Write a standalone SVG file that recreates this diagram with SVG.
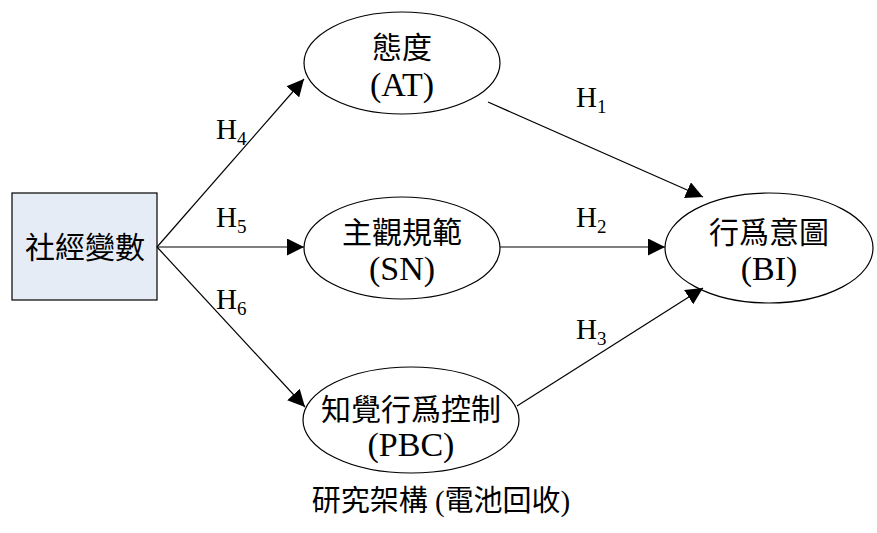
<svg xmlns="http://www.w3.org/2000/svg" width="877" height="533" viewBox="0 0 877 533">
<defs>
<style>
.n{fill:#fff;stroke:#000;stroke-width:1.2}
.t{font-family:"Liberation Serif","Noto Sans CJK TC",serif;text-anchor:middle;fill:#000}
.cj{font-size:30px}
.la{font-size:34px}
.cap{font-size:29px}
.h{font-family:"Liberation Serif",serif;font-size:29px;fill:#000}
.s{font-size:19px}
.c line{stroke:#000;stroke-width:1.2;marker-end:url(#a)}
</style>
<marker id="a" viewBox="0 0 10 10" refX="10" refY="5" markerWidth="17" markerHeight="17" markerUnits="userSpaceOnUse" orient="auto"><path d="M0,0L10,5L0,10z" fill="#000"/></marker>
</defs>
<rect width="877" height="533" fill="#fff"/>
<g id="socio"><rect x="12" y="193" width="145" height="107" fill="#e6ecf6" stroke="#000" stroke-width="1.2"/><text class="t cj" x="85" y="258">社經變數</text></g>
<g id="AT"><ellipse class="n" cx="402" cy="63" rx="98" ry="51"/><text class="t cj" x="402" y="58">態度</text><text class="t la" x="402" y="96">(AT)</text></g>
<g id="SN"><ellipse class="n" cx="402" cy="248" rx="98" ry="51"/><text class="t cj" x="402" y="243">主觀規範</text><text class="t la" x="402" y="280">(SN)</text></g>
<g id="PBC"><ellipse class="n" cx="411" cy="420" rx="108" ry="53"/><text class="t cj" x="411" y="420">知覺行爲控制</text><text class="t la" x="411" y="456">(PBC)</text></g>
<g id="BI"><ellipse class="n" cx="769" cy="248" rx="104" ry="55"/><text class="t cj" x="769" y="243">行爲意圖</text><text class="t la" x="769" y="280">(BI)</text></g>
<g class="c">
<line x1="157" y1="247" x2="304" y2="79"/>
<line x1="157" y1="247" x2="304" y2="247"/>
<line x1="157" y1="247" x2="305" y2="407"/>
<line x1="488" y1="102" x2="703" y2="197"/>
<line x1="500" y1="247" x2="665" y2="247"/>
<line x1="517" y1="406" x2="703" y2="288"/>
</g>
<g id="labels">
<text class="h" x="216" y="139">H<tspan class="s" dy="6">4</tspan></text>
<text class="h" x="216" y="227">H<tspan class="s" dy="6">5</tspan></text>
<text class="h" x="216" y="309">H<tspan class="s" dy="6">6</tspan></text>
<text class="h" x="576" y="107">H<tspan class="s" dy="6">1</tspan></text>
<text class="h" x="576" y="227">H<tspan class="s" dy="6">2</tspan></text>
<text class="h" x="576" y="339">H<tspan class="s" dy="6">3</tspan></text>
</g>
<text class="t cap" x="441" y="511">研究架構 (電池回收)</text>
</svg>
